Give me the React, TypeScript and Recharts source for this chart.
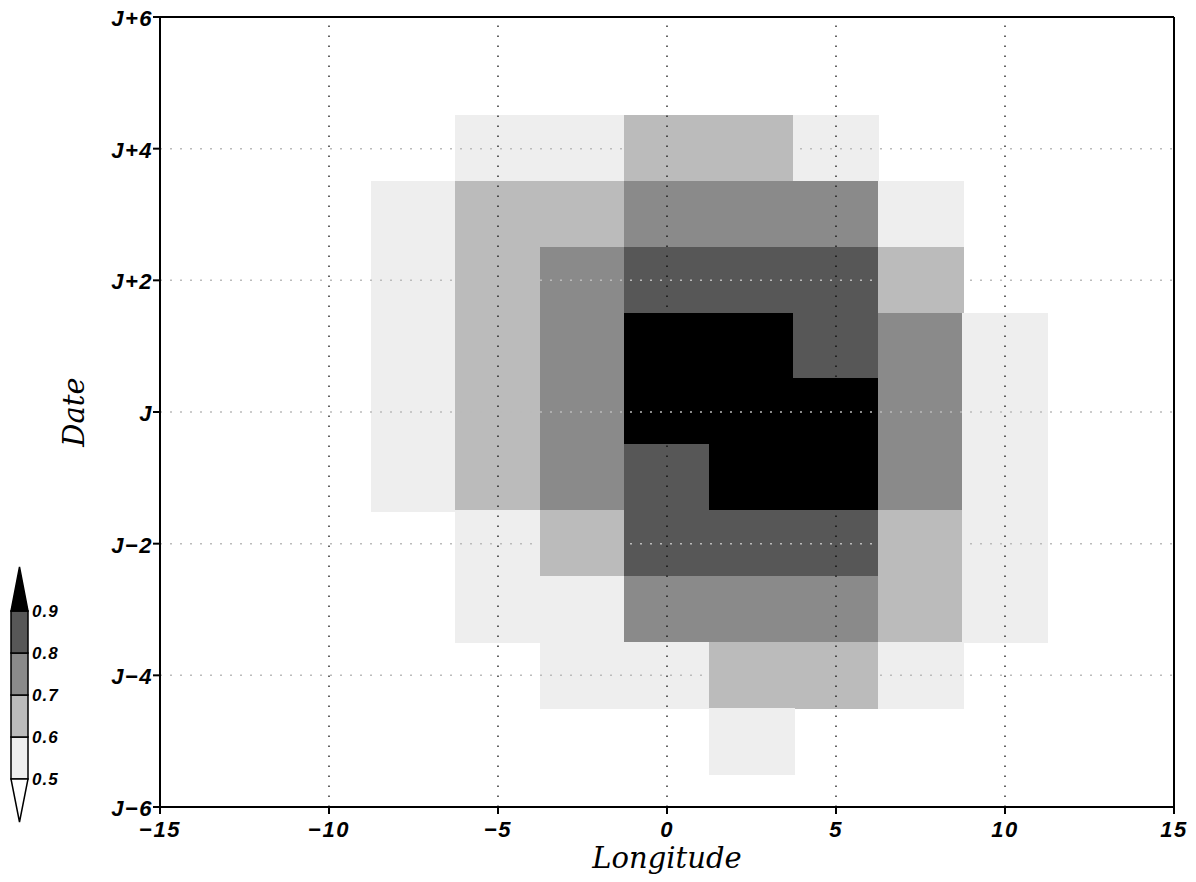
import React from 'react';
import { ComposedChart, XAxis, YAxis, ReferenceArea, ReferenceLine, Label } from 'recharts';

// Grid of the field: longitude centres and day offsets
const LON = [-7.5, -5, -2.5, 0, 2.5, 5, 7.5, 10];
const LON_STEP = 2.5;
const DAYS = [4, 3, 2, 1, 0, -1, -2, -3, -4, -5];

// Values per day row (columns follow LON)
const rowP4 = [0.4, 0.55, 0.55, 0.65, 0.65, 0.55, 0.4, 0.4];
const rowP3 = [0.55, 0.65, 0.65, 0.75, 0.75, 0.75, 0.55, 0.4];
const rowP2 = [0.55, 0.65, 0.75, 0.85, 0.85, 0.85, 0.65, 0.4];
const rowP1 = [0.55, 0.65, 0.75, 0.95, 0.95, 0.85, 0.75, 0.55];
const row0 = [0.55, 0.65, 0.75, 0.95, 0.95, 0.95, 0.75, 0.55];
const rowM1 = [0.55, 0.65, 0.75, 0.85, 0.95, 0.95, 0.75, 0.55];
const rowM2 = [0.4, 0.55, 0.65, 0.85, 0.85, 0.85, 0.65, 0.55];
const rowM3 = [0.4, 0.55, 0.55, 0.75, 0.75, 0.75, 0.65, 0.55];
const rowM4 = [0.4, 0.4, 0.55, 0.55, 0.65, 0.65, 0.55, 0.4];
const rowM5 = [0.4, 0.4, 0.4, 0.4, 0.55, 0.4, 0.4, 0.4];
const ROWS = [rowP4, rowP3, rowP2, rowP1, row0, rowM1, rowM2, rowM3, rowM4, rowM5];

// Contour levels and shades
const LEVELS = [0.5, 0.6, 0.7, 0.8, 0.9];
const SHADES = ['#eeeeee', '#bbbbbb', '#8a8a8a', '#575757', '#000000'];

// Axes
const X_TICKS = [-15, -10, -5, 0, 5, 10, 15];
const Y_TICKS = [-6, -4, -2, 0, 2, 4, 6];
const GRID_X = [-10, -5, 0, 5, 10];
const GRID_Y = [-4, -2, 0, 2, 4];

const shadeOf = (v: number): string | null => {
  let idx = -1;
  for (let i = 0; i < LEVELS.length; i++) if (v >= LEVELS[i]) idx = i;
  return idx < 0 ? null : SHADES[idx];
};

const fmtX = (v: number) => (v < 0 ? '\u2212' + Math.abs(v) : String(v));
const fmtY = (v: number) => (v === 0 ? 'J' : v > 0 ? 'J+' + v : 'J\u2212' + Math.abs(v));

const tickFont: React.CSSProperties = {
  fontFamily: '"Liberation Sans", Arial, sans-serif',
  fontWeight: 'bold',
  fontStyle: 'italic',
  fontSize: 22,
  fill: '#000',
  letterSpacing: 1.5,
};

const XTick = (props: any) => {
  const { x, y, payload } = props;
  return (
    <text x={x} y={y + 23} textAnchor="middle" style={tickFont}>
      {fmtX(payload.value)}
    </text>
  );
};

const YTick = (props: any) => {
  const { x, y, payload } = props;
  return (
    <text x={x} y={y + 9} textAnchor="end" style={tickFont}>
      {fmtY(payload.value)}
    </text>
  );
};

const cells: { x: number; y: number; c: string }[] = [];
DAYS.forEach((d, ri) => {
  LON.forEach((lon, ci) => {
    const c = shadeOf(ROWS[ri][ci]);
    if (c) cells.push({ x: lon, y: d, c });
  });
});

const Colorbar = () => {
  const x0 = 11;
  const w = 17;
  const yBase = 779;
  const seg = 42;
  const yOf = (i: number) => yBase - i * seg;
  const n = LEVELS.length;
  return (
    <svg width={1196} height={882} style={{ position: 'absolute', left: 0, top: 0, pointerEvents: 'none' }}>
      {LEVELS.slice(0, n - 1).map((lv, i) => (
        <rect key={lv} x={x0} y={yOf(i + 1)} width={w} height={seg} fill={SHADES[i]} stroke="#000" strokeWidth={1.5} />
      ))}
      <polygon
        points={`${x0},${yOf(n - 1)} ${x0 + w},${yOf(n - 1)} ${x0 + w / 2},${yOf(n - 1) - 44}`}
        fill={SHADES[n - 1]}
        stroke="#000"
        strokeWidth={1.5}
      />
      <polygon
        points={`${x0},${yBase} ${x0 + w},${yBase} ${x0 + w / 2},${yBase + 43}`}
        fill="#fff"
        stroke="#000"
        strokeWidth={1.5}
      />
      {LEVELS.map((lv, i) => (
        <text key={lv} x={32} y={yOf(i) + 6} style={{ ...tickFont, fontSize: 17, letterSpacing: 1 }}>
          {lv.toFixed(1)}
        </text>
      ))}
    </svg>
  );
};

export default function App() {
  return (
    <div style={{ position: 'absolute', left: 0, top: 0, width: 1196, height: 882, background: '#fff' }}>
      <ComposedChart width={1196} height={882} margin={{ top: 17, right: 22, bottom: 0, left: 0 }} data={[]}>
        <XAxis
          type="number"
          dataKey="x"
          domain={[-15, 15]}
          ticks={X_TICKS}
          allowDataOverflow
          height={75}
          tickSize={7}
          tickMargin={0}
          tick={<XTick />}
          axisLine={{ stroke: '#000', strokeWidth: 2 }}
          tickLine={{ stroke: '#000', strokeWidth: 2 }}
        >
          <Label
            content={() => (
              <text
                x={667}
                y={868}
                textAnchor="middle"
                style={{ fontFamily: '"DejaVu Serif", serif', fontStyle: 'italic', fontSize: 29, fill: '#000' }}
              >
                Longitude
              </text>
            )}
          />
        </XAxis>
        <YAxis
          type="number"
          dataKey="y"
          domain={[-6, 6]}
          ticks={Y_TICKS}
          allowDataOverflow
          width={160}
          tickSize={7}
          tickMargin={0}
          tick={<YTick />}
          axisLine={{ stroke: '#000', strokeWidth: 2 }}
          tickLine={{ stroke: '#000', strokeWidth: 2 }}
        >
          <Label
            content={() => (
              <text
                x={84}
                y={412}
                textAnchor="middle"
                transform="rotate(-90 84 412)"
                style={{ fontFamily: '"DejaVu Serif", serif', fontStyle: 'italic', fontSize: 29, fill: '#000' }}
              >
                Date
              </text>
            )}
          />
        </YAxis>
        {cells.map((c, i) => (
          <ReferenceArea
            key={'c' + i}
            x1={c.x - LON_STEP / 2}
            x2={c.x + LON_STEP / 2}
            y1={c.y - 0.5}
            y2={c.y + 0.5}
            fill={c.c}
            fillOpacity={1}
            stroke={c.c}
            strokeWidth={1.5}
            shapeRendering="crispEdges"
            ifOverflow="visible"
          />
        ))}
        {GRID_Y.map((g) => (
          <ReferenceLine key={'gy' + g} y={g} stroke="#bbbbbb" strokeWidth={1.5} strokeDasharray="2 8" />
        ))}
        {GRID_X.map((g) => (
          <ReferenceLine key={'gx' + g} x={g} stroke="#000" strokeWidth={1.2} strokeDasharray="1.5 8.5" />
        ))}
        <ReferenceLine y={6} stroke="#000" strokeWidth={2} ifOverflow="visible" />
        <ReferenceLine x={15} stroke="#000" strokeWidth={2} ifOverflow="visible" />
      </ComposedChart>
      <Colorbar />
    </div>
  );
}
